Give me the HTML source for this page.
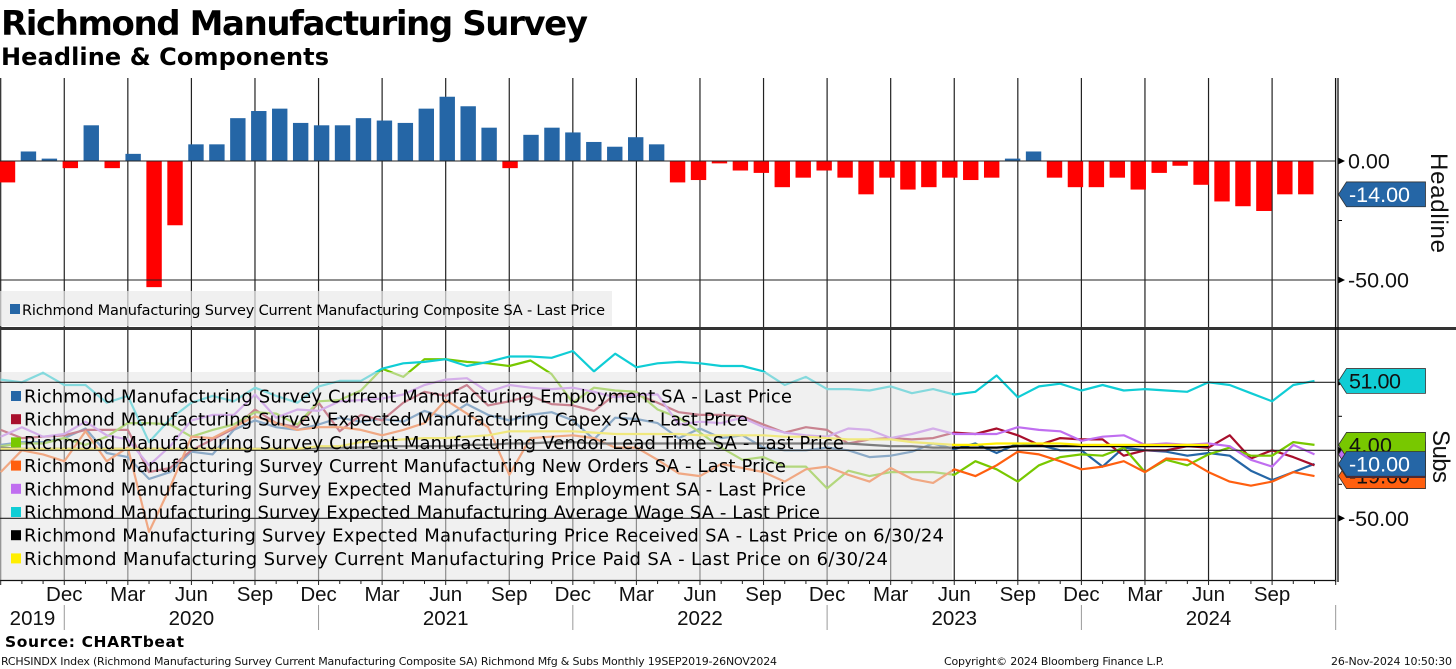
<!DOCTYPE html>
<html lang="en">
<head>
<meta charset="utf-8">
<title>Richmond Manufacturing Survey</title>
<style>
html,body{margin:0;padding:0;background:#fff;width:1456px;height:669px;overflow:hidden}
svg{display:block}
text{fill:#111}
.ax{font-family:"Liberation Sans",sans-serif;font-size:20.5px}
.rt{font-family:"Liberation Sans",sans-serif;font-size:21.5px}
.leg{font-family:"DejaVu Sans",sans-serif;fill:#000}
</style>
</head>
<body>
<svg id="chart" width="1456" height="669" viewBox="0 0 1456 669" xmlns="http://www.w3.org/2000/svg">
  <text x="1" y="35" textLength="587" lengthAdjust="spacing" style="font:bold 34px 'DejaVu Sans',sans-serif;fill:#000">Richmond Manufacturing Survey</text>
  <text x="1" y="65" textLength="328" lengthAdjust="spacing" style="font:bold 24px 'DejaVu Sans',sans-serif;fill:#000">Headline &amp; Components</text>
  <g id="grid"></g>
  <g id="bars"></g>
  <g id="lines"></g>
  <rect x="0" y="291" width="612" height="35" fill="rgb(234,234,234)" fill-opacity="0.7"/>
  <rect x="0" y="372" width="952" height="208" fill="rgb(228,228,228)" fill-opacity="0.55"/>
  <g id="hgrid"></g>
  <rect x="10" y="304" width="10" height="10" fill="#2566a6"/>
  <text class="leg" x="22" y="315" textLength="583" lengthAdjust="spacing" style="font-size:14.5px">Richmond Manufacturing Survey Current Manufacturing Composite SA - Last Price</text>
  <g id="legend"></g>
  <rect x="0" y="327" width="1456" height="3" fill="#333"/>
  <g id="axes"></g>
  <g id="tags"></g>
  <text transform="translate(1431,153) rotate(90)" textLength="100" lengthAdjust="spacing" style="font:24px 'Liberation Sans',sans-serif">Headline</text>
  <text transform="translate(1433,430) rotate(90)" textLength="53" lengthAdjust="spacing" style="font:24px 'Liberation Sans',sans-serif">Subs</text>
  <text x="5" y="647" textLength="179" lengthAdjust="spacing" style="font:bold 15.5px 'DejaVu Sans',sans-serif;fill:#000">Source: CHARTbeat</text>
  <text x="1" y="665" textLength="776" lengthAdjust="spacing" style="font:11px 'DejaVu Sans',sans-serif">RCHSINDX Index (Richmond Manufacturing Survey Current Manufacturing Composite SA) Richmond Mfg &amp; Subs  Monthly 19SEP2019-26NOV2024</text>
  <text x="944" y="665" textLength="220" lengthAdjust="spacing" style="font:11px 'DejaVu Sans',sans-serif">Copyright© 2024 Bloomberg Finance L.P.</text>
  <text x="1331" y="665" textLength="121" lengthAdjust="spacing" style="font:11px 'DejaVu Sans',sans-serif">26-Nov-2024 10:50:30</text>
</svg>
<script>
const headline = [-9,4,1,-3,15,-3,3,-53,-27,7,7,18,21,22,16,15,15,18,17,16,22,27,23,14,-3,11,14,12,8,6,10,7,-9,-8,-1,-4,-5,-11,-7,-4,-7,-14,-7,-12,-11,-7,-8,-7,1,4,-7,-11,-11,-7,-12,-5,-2,-10,-17,-19,-21,-14,-14];
const employment = [4,6,6,9,16,-2,-5,-21,-16,-1,-3,15,22,17,15,19,24,21,23,21,29,24,34,26,22,26,28,22,8,24,23,20,9,16,9,11,2,0,0,2,0,-5,-4,-1,5,1,5,-2,5,4,0,0,-12,2,0,-1,-4,-2,-4,-15,-22,-16,-10];
const capex = [15,9,10,11,15,15,15,-16,-13,0,8,16,30,20,17,35,14,26,22,35,43,40,48,33,36,40,34,33,29,41,41,35,28,26,26,25,19,13,17,15,5,8,9,8,9,13,12,16,11,4,9,8,8,-4,0,0,3,2,11,-6,0,-5,-11];
const vendor = [3,5,5,9,4,10,20,20,19,10,15,19,28,27,19,36,37,44,60,54,67,67,65,64,62,66,56,35,46,44,43,30,24,13,2,-7,-5,-12,-12,-28,-15,-19,-16,-16,-16,-18,-8,-14,-23,-11,-5,-3,-4,2,-16,-7,-11,-3,2,-4,-4,6,4];
const newOrders = [-16,0,-3,-8,14,-8,2,-60,-27,10,9,17,25,20,15,17,17,15,11,15,20,37,27,17,-18,9,10,11,9,2,2,-7,-17,-19,-10,-13,-16,-23,-14,-12,-18,-23,-13,-21,-24,-14,-19,-11,-1,-3,-8,-14,-12,-8,-16,-6,-7,-16,-23,-26,-23,-16,-19];
const expEmployment = [10,17,10,12,21,11,8,-11,3,22,26,26,41,24,30,29,36,37,38,41,48,52,53,43,48,46,45,46,43,39,41,41,19,21,20,24,17,13,11,10,16,15,9,12,16,12,12,12,17,15,14,7,10,11,4,5,4,5,3,-7,-12,4,-3];
const avgWage = [52,50,57,48,48,35,40,6,23,35,40,36,46,40,35,47,51,51,60,64,65,67,62,65,69,69,68,73,58,71,61,64,65,64,62,62,58,48,54,45,45,44,47,42,45,41,43,55,39,47,49,44,48,44,45,44,43,50,48,42,36,48,51];
const priceReceived = [2,1,1,1,1,1,1,1,1,1,1,1,1,1,1,2,2,2,3,3,3,3,4,4,5,5,6,6,5,5,5,5,5,5,5,5,5,5,5,5,5,4,3,3,2,2,2,2,3,3,3,3,3,3,3,3,3,3];
const pricePaid = [1,1,1,1,1,1,1,1,1,1,1,1,1,1,1,3,3,6,7,8,9,9,10,11,14,14,14,14,13,12,12,12,12,11,11,11,11,10,10,9,8,8,8,6,5,4,4,5,5,5,5,4,4,4,4,4,4,4];
const quarterLabels = ["Dec","Mar","Jun","Sep","Dec","Mar","Jun","Sep","Dec","Mar","Jun","Sep","Dec","Mar","Jun","Sep","Dec","Mar","Jun","Sep"];
const yearLabels = ["2019","2020","2021","2022","2023","2024"];
const yearQuarterIndex = [0.5,3,7,11,15,19];
const yearBreakQuarters = [1,5,9,13,17,21];
const headlineTicks = [0,-50];
const subsTicks = [50,0,-50];
const headlineMinorTicks = [-25];
const subsMinorTicks = [25,-25];

const seriesStyles = [
  {id:"employment",values:employment,color:"#2566a6",label:"Richmond Manufacturing Survey Current Manufacturing Employment SA - Last Price",w:768},
  {id:"capex",values:capex,color:"#a80f2c",label:"Richmond Manufacturing Survey Expected Manufacturing Capex SA - Last Price",w:724},
  {id:"vendor",values:vendor,color:"#78c800",label:"Richmond Manufacturing Survey Current Manufacturing Vendor Lead Time SA - Last Price",w:820},
  {id:"new-orders",values:newOrders,color:"#ff5f0f",label:"Richmond Manufacturing Survey Current Manufacturing New Orders SA - Last Price",w:762},
  {id:"exp-employment",values:expEmployment,color:"#c06ef0",label:"Richmond Manufacturing Survey Expected Manufacturing Employment SA - Last Price",w:782},
  {id:"avg-wage",values:avgWage,color:"#10cdd5",label:"Richmond Manufacturing Survey Expected Manufacturing Average Wage SA - Last Price",w:796},
  {id:"price-received",values:priceReceived,color:"#000000",label:"Richmond Manufacturing Survey Expected Manufacturing Price Received SA - Last Price on 6/30/24",w:920},
  {id:"price-paid",values:pricePaid,color:"#ffee00",label:"Richmond Manufacturing Survey Current Manufacturing Price Paid SA - Last Price on 6/30/24",w:864}
];

const NS = "http://www.w3.org/2000/svg";
function make(tag, parent, attrs, txt) {
  const n = document.createElementNS(NS, tag);
  for (const k in attrs) n.setAttribute(k, attrs[k]);
  if (txt !== undefined) n.textContent = txt;
  parent.appendChild(n);
  return n;
}
const barX = n => 7.5 + 20.94 * n;
const lineX = n => 0.7 + 21.19 * n;
const quarterX = q => 0.7 + 63.57 * q;
const topY = v => 161 - 2.38 * v;
const subY = v => 450.3 - 1.36 * v;

const grid = document.getElementById("grid");
const hgrid = document.getElementById("hgrid");
const bars = document.getElementById("bars");
const linesG = document.getElementById("lines");
const legend = document.getElementById("legend");
const axes = document.getElementById("axes");
const tags = document.getElementById("tags");

for (let q = 0; q <= quarterLabels.length; q++) {
  const el = make("line", grid, {x1:quarterX(q), x2:quarterX(q), y1:78, y2:580, stroke:"#222", "stroke-width":1.2});
  
  
}
headlineTicks.forEach(v => {
  const el = make("line", hgrid, {x1:0, x2:1336, y1:topY(v), y2:topY(v), stroke:"#222", "stroke-width":1.1});
  
  
  const a = make("polygon", axes, {points:`1338,${topY(v)-3.5} 1345,${topY(v)} 1338,${topY(v)+3.5}`, fill:"#000"});
  
  
  const t = make("text", axes, {class:"rt", x:1348, y:topY(v)+7.5}, v.toFixed(2));
  
  
});
subsTicks.forEach(v => {
  const el = make("line", hgrid, {x1:0, x2:1336, y1:subY(v), y2:subY(v), stroke:"#222", "stroke-width":1.1});
  
  
  const a = make("polygon", axes, {points:`1338,${subY(v)-3.5} 1345,${subY(v)} 1338,${subY(v)+3.5}`, fill:"#000"});
  
  
});
const subLab = make("text", axes, {class:"rt", x:1348, y:subY(-50)+7.5}, (-50).toFixed(2));



headlineMinorTicks.forEach(v => {
  const el = make("line", axes, {x1:1338, x2:1342, y1:topY(v), y2:topY(v), stroke:"#000"});
  
  
});
subsMinorTicks.forEach(v => {
  const el = make("line", axes, {x1:1338, x2:1342, y1:subY(v), y2:subY(v), stroke:"#000"});
  
  
});

headline.forEach((v, n) => {
  const y0 = topY(0), y1 = topY(v);
  const el = make("rect", bars, {x:barX(n)-7.7, width:15.4, y:Math.min(y0,y1), height:Math.abs(y1-y0), fill:v>=0?"#2566a6":"#ff0000"});
  
  
});

seriesStyles.forEach((s, i) => {
  const pts = s.values.map((v, n) => lineX(n).toFixed(1) + "," + subY(v).toFixed(1)).join(" ");
  const el = make("polyline", linesG, {points:pts, fill:"none", stroke:s.color, "stroke-width":2.2, "stroke-linejoin":"round"});
  
  

  const cy = 396 + 23.2 * i;
  const m = make("rect", legend, {x:11, y:cy-5, width:10, height:10, fill:s.color});
  
  
  const t = make("text", legend, {class:"leg", x:24, y:cy+6.5, textLength:s.w, lengthAdjust:"spacing", style:"font-size:18px"}, s.label);
  
  
});

const ax1 = make("line", axes, {x1:1335.6, x2:1335.6, y1:78, y2:582, stroke:"#111", "stroke-width":1.3});


const ax2 = make("line", axes, {x1:1338, x2:1338, y1:78, y2:582, stroke:"#111", "stroke-width":1.3});


const base = make("line", axes, {x1:0, x2:1336, y1:580.5, y2:580.5, stroke:"#111", "stroke-width":1.2});



for (let n = 0; n <= 63; n++) {
  const el = make("line", axes, {x1:lineX(n), x2:lineX(n), y1:580, y2:n%3===0?585:584, stroke:"#222"});
  
  
}
quarterLabels.forEach((lab, i) => {
  const el = make("text", axes, {class:"ax", x:quarterX(i+1), y:601, "text-anchor":"middle"}, lab);
  
  
});
yearLabels.forEach((lab, i) => {
  const el = make("text", axes, {class:"ax", x:quarterX(yearQuarterIndex[i]), y:625, "text-anchor":"middle"}, lab);
  
  
});
yearBreakQuarters.forEach(q => {
  const el = make("line", axes, {x1:quarterX(q), x2:quarterX(q), y1:605, y2:630, stroke:"#999", "stroke-width":1});
  
  
});

function drawTag(y, fill, txtColor, text, w) {
  const t = 12.4, pts = `1338.5,${y} 1346.5,${y-t} 1425.5,${y-t} 1425.5,${y+t} 1346.5,${y+t}`;
  const p = make("polygon", tags, {points:pts, fill:fill, stroke:"#333", "stroke-width":0.8});
  
  
  const l = make("text", tags, {class:"rt", x:1349, y:y+7.5, textLength:w, lengthAdjust:"spacing", style:"fill:"+txtColor}, text);
  
  
}
const lastOf = a => a[a.length - 1];
drawTag(topY(lastOf(headline)), "#2566a6", "#fff", lastOf(headline).toFixed(2), 61);
drawTag(subY(lastOf(avgWage)), "#10cdd5", "#111", lastOf(avgWage).toFixed(2), 52);
drawTag(subY(lastOf(expEmployment)), "#c06ef0", "#111", lastOf(expEmployment).toFixed(2), 52);
drawTag(subY(lastOf(vendor)), "#78c800", "#111", lastOf(vendor).toFixed(2), 43);
drawTag(subY(lastOf(newOrders)), "#ff5f0f", "#111", lastOf(newOrders).toFixed(2), 61);
drawTag(subY(lastOf(capex)), "#a80f2c", "#fff", lastOf(capex).toFixed(2), 61);
drawTag(subY(lastOf(employment)), "#2566a6", "#fff", lastOf(employment).toFixed(2), 61);
</script>
</body>
</html>
